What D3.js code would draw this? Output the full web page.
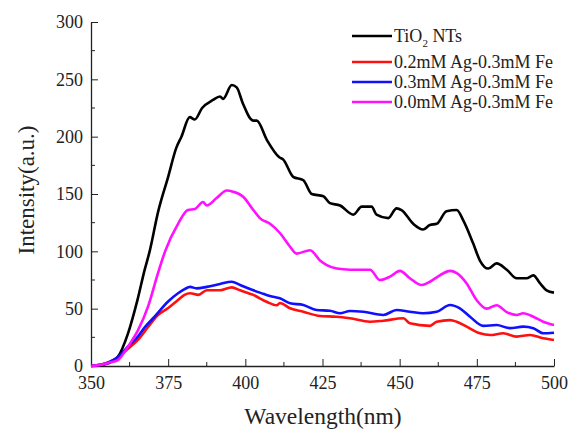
<!DOCTYPE html>
<html><head><meta charset="utf-8">
<script src="https://cdn.jsdelivr.net/npm/d3@7"></script>
<style>body{margin:0;background:#fff}svg{display:block}text{font-family:'Liberation Serif','Times New Roman',serif}</style>
</head><body>
<svg id="c" width="571" height="430"></svg>
<script>
const xTicks = [350, 375, 400, 425, 450, 475, 500];
const yTicks = [0, 50, 100, 150, 200, 250, 300];

const tioX = [350,353,355.5,358.7,362,365,367.4,369,371.7,375,377.6,379.3,382,383.6,386,389.5,391.8,392.8,395.6,397.2,399.2,402.5,403.7,407,411,412.3,415.5,418.8,421.5,425.3,427.4,430.7,435,437.7,440.9,442.5,446.3,449,450.6,454.4,457.6,459.8,462,465.2,468.5,470.6,473.8,476,478.7,481.4,484.7,487.9,491.1,493.3,495.5,497.6,500];
const tioY = [0,0.5,2.3,8,28.5,57,84,100,134,165,190,200,217,215,225,232,235,233,245,243,229,214,214,197,182,180,165,162,150,148,142,140,132,139,139,132,129,137.5,136,124,119,123,124,135,136,127,107,92,85,89.5,84,76.5,76.5,79,72,66,64];

const agRedX = [350,353,356,359.4,362,365.2,368.5,371.7,374.9,378.2,380.3,382.1,384.8,387.5,391.8,395.6,398.3,402.6,406.9,410.2,411.2,414.5,418.8,424.2,429.6,433.9,440.4,444.7,451.2,453.3,459.8,462,466.3,468.5,471.7,476,479.3,483.6,487.9,492.2,496.5,500];
const agRedY = [0,1,3.5,9,15,22.7,34,44.5,50.3,57.6,62,63.4,62,66,66,68.6,66,62,56,53,55,50.3,47.3,43.6,43,41.6,38.6,39.5,41.6,37.2,35,38.6,40,38.6,34.3,28.5,27,28.5,25.6,27,24.2,22.7];

const agBlueX = [350,353,356,359.4,362,365.2,367.4,370.6,374.9,378.2,380.3,382.1,384.2,387.5,391.8,395.6,398.3,402.6,405.8,408,411.2,414.5,418.8,423.1,427.4,430.7,433.9,438.2,444.7,449,453.3,457.6,462,466.3,469.5,472.8,477.1,481.4,485.7,490,493.3,496.5,500];
const agBlueY = [0,1,3.5,9.5,17,25.6,33.7,43,56,63.4,67,69,67.7,69,71.5,73.5,70.6,66,63,61,59,54.7,53.2,48.8,48.2,46,48,47.3,44.5,48.8,47.3,46,47.3,53.2,50.3,43,35,35.7,33,34.3,33,28.5,29];

const agMagX = [350,353,356,358.7,362,365.2,368.5,371.7,374,378.2,381.4,383.7,386.3,387.5,390.7,394,396,399.3,402.6,404.7,408,411.2,414.5,416.6,421,424.2,426.4,429.6,433.9,440.4,443.6,446.9,450.1,453.3,457.1,459.8,463,466.3,468.5,471.7,474.9,478.2,481.4,484.7,487.9,490,493.3,496.5,500];
const agMagY = [0,1,3,5.2,17,31,52,81,100,124,136,137,143,140,146.5,153,152,147.6,136,129,124,116,104,98,101,92,88,85,84,84,75,78,83,76.5,70.6,73.5,79,83,81,72,57.6,50,53,47,44.5,46,43,38.6,35.7];

const seriesNames = ["TiO2 NTs", "0.2mM Ag-0.3mM Fe", "0.3mM Ag-0.3mM Fe", "0.0mM Ag-0.3mM Fe"];
const seriesColors = ["#000000", "#ff1010", "#1010ff", "#ff10ff"];

const series = [
  {x: tioX, y: tioY},
  {x: agRedX, y: agRedY},
  {x: agBlueX, y: agBlueY},
  {x: agMagX, y: agMagY}
];

const svg = d3.select("#c");
const x = d3.scaleLinear().domain([350, 500]).range([91, 554]);
const y = d3.scaleLinear().domain([0, 300]).range([366, 22]);
const font = "'Liberation Serif','Times New Roman',serif";

const xMinor = d3.range(362.5, 500, 25);
const yMinor = d3.range(25, 300, 50);

const gx = svg.append("g").attr("transform", "translate(0,366)")
  .call(d3.axisBottom(x).tickValues(xTicks).tickSizeInner(-7).tickSizeOuter(0).tickPadding(0).tickFormat(d3.format("d")));
gx.attr("font-family", null);
gx.selectAll(".tick text").style("font-family", font).attr("font-size", 18).attr("fill", "#222").attr("dy", null).attr("y", 23);
gx.append("g").selectAll("line").data(xMinor).join("line")
  .attr("x1", d => x(d)).attr("x2", d => x(d)).attr("y1", 0).attr("y2", -4).attr("stroke", "#222");

const gy = svg.append("g").attr("transform", "translate(91,0)")
  .call(d3.axisLeft(y).tickValues(yTicks).tickSizeInner(-7).tickSizeOuter(0).tickPadding(0).tickFormat(d3.format("d")));
gy.attr("font-family", null);
gy.selectAll(".tick text").style("font-family", font).attr("font-size", 18).attr("fill", "#222").attr("x", -8);
gy.append("g").selectAll("line").data(yMinor).join("line")
  .attr("y1", d => y(d)).attr("y2", d => y(d)).attr("x1", 0).attr("x2", 4).attr("stroke", "#222");
svg.selectAll(".domain").attr("stroke", "#222").attr("stroke-width", 1.3);
svg.selectAll(".tick line").attr("stroke", "#222");

const line = d3.line().curve(d3.curveMonotoneX);
series.forEach((s, i) => {
  const pts = s.x.map((v, j) => [x(v), y(s.y[j])]);
  svg.append("path").attr("d", line(pts)).attr("fill", "none")
    .attr("stroke", seriesColors[i]).attr("stroke-width", 2.6).attr("stroke-linejoin", "round");
});

svg.append("text").attr("x", 323).attr("y", 424).attr("text-anchor", "middle")
  .style("font-family", font).attr("font-size", 23.5).attr("fill", "#222").text("Wavelength(nm)");
svg.append("text").attr("transform", "translate(34,190) rotate(-90)").attr("text-anchor", "middle")
  .style("font-family", font).attr("font-size", 23).attr("fill", "#222").text("Intensity(a.u.)");

const legY = [36, 62, 82, 102];
seriesNames.forEach((n, i) => {
  svg.append("line").attr("x1", 352).attr("x2", 392).attr("y1", legY[i]).attr("y2", legY[i])
    .attr("stroke", seriesColors[i]).attr("stroke-width", 2.6);
  const t = svg.append("text").attr("x", 394).attr("y", legY[i]).attr("dy", "0.35em")
    .style("font-family", font).attr("font-size", 18).attr("fill", "#222");
  if (i === 0) {
    t.append("tspan").text("TiO");
    t.append("tspan").attr("font-size", 11).attr("dy", 5).text("2");
    t.append("tspan").attr("dy", -5).text(" NTs");
  } else {
    t.text(n);
  }
});
</script>
</body></html>
